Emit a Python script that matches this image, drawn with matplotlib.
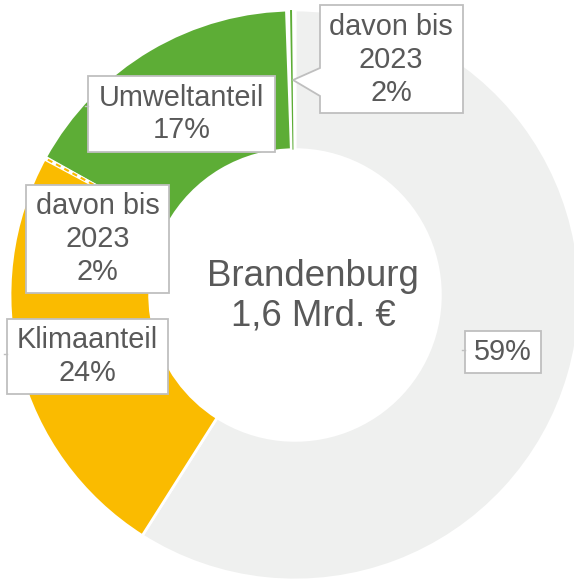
import matplotlib
matplotlib.use('Agg')
import matplotlib.pyplot as plt
import numpy as np
from matplotlib.patches import Wedge, Rectangle, Polygon

# data
categories = ['Rest', 'Klimaanteil', 'Umweltanteil']
shares = [59, 24, 17]
davon_labels = ['davon bis\n2023\n2%', 'davon bis\n2023\n2%']
center_label = 'Brandenburg\n1,6 Mrd. €'

colors = ['#EFF0EF', '#FABB00', '#5DAD36']
text_color = '#595959'
box_edge = '#BFBFBF'

plt.rcParams['font.family'] = ['Liberation Sans', 'DejaVu Sans']

W, H, DPI = 574, 580, 100
CX, CY, R = 295, 295, 285
FS = 20.8
LS = 1.22


def px(x, y):
    return (x - CX) / R, (CY - y) / R


fig = plt.figure(figsize=(W / DPI, H / DPI), dpi=DPI)
ax = fig.add_axes([0, 0, 1, 1])

wedges, _ = ax.pie(shares, colors=colors, startangle=90, counterclock=False,
                   radius=1, wedgeprops=dict(width=0.49, edgecolor='white', linewidth=2))

# boundaries (math angles) from the data
bounds = 90 - np.cumsum([0] + shares) * 3.6
klima_end = bounds[2] + 360     # yellow -> green boundary
umwelt_end = bounds[3] + 360    # top

# "davon bis 2023" sliver of Umweltanteil at the top
ax.add_patch(Wedge((0, 0), 1.0, umwelt_end, umwelt_end + 2.0, width=0.49,
                   facecolor='white', edgecolor='none', zorder=3))
ax.add_patch(Wedge((0, 0), 1.0, umwelt_end + 0.6, umwelt_end + 1.0, width=0.49,
                   facecolor=colors[2], edgecolor='none', zorder=4))

# "davon bis 2023" of Klimaanteil: dashed band
ax.add_patch(Wedge((0, 0), 1.0, klima_end - 0.4, klima_end + 0.6, width=0.49,
                   facecolor='white', edgecolor='none', zorder=3))
a = np.deg2rad(klima_end + 0.1)
ax.plot([0.51 * np.cos(a), 0.995 * np.cos(a)], [0.51 * np.sin(a), 0.995 * np.sin(a)],
        color=colors[1], lw=1.5, dashes=(2.5, 2), zorder=4, solid_capstyle='butt')


def stub(x, y, dx):
    (a0, b0), (a1, b1) = px(x, y), px(x + dx, y)
    ax.plot([a0, a1], [b0, b1], color=box_edge, lw=1.0, zorder=5)


def box(x0, y0, x1, y1, text):
    (a0, b0), (a1, b1) = px(x0, y0), px(x1, y1)
    ax.add_patch(Rectangle((a0, b1), a1 - a0, b0 - b1, facecolor='white',
                           edgecolor=box_edge, lw=1.3, zorder=5))
    ax.text((a0 + a1) / 2, (b0 + b1) / 2, text, ha='center', va='center',
            fontsize=FS, color=text_color, linespacing=LS, zorder=6)


# callout box at the top
pts = [(320, 5), (463, 5), (463, 113), (320, 113), (320, 96), (293, 80), (320, 68)]
ax.add_patch(Polygon([px(*p) for p in pts], closed=True, facecolor='white',
                     edgecolor=box_edge, lw=1.3, zorder=5))
tx, ty = px(391, 60)
ax.text(tx, ty, davon_labels[1], ha='center', va='center', fontsize=FS,
        color=text_color, linespacing=LS, zorder=6)

box(88, 76, 275, 152, f'{categories[2]}\n{shares[2]}%')
box(26, 185, 169, 293, davon_labels[0])
box(7, 319, 168, 394, f'{categories[1]}\n{shares[1]}%')
box(465, 331, 541, 373, f'{shares[0]}%')
stub(88, 106, -3)
stub(7, 354, -3)
stub(465, 350, -3)

cx, cy = px(313, 296)
ax.text(cx, cy, center_label, ha='center', va='center', fontsize=26.4,
        color=text_color, linespacing=1.18)

x0, y0 = px(0, 0)
x1, y1 = px(W, H)
ax.set_xlim(x0, x1)
ax.set_ylim(y1, y0)
ax.set_aspect('equal')
ax.axis('off')

fig.savefig('out.png', dpi=DPI)
